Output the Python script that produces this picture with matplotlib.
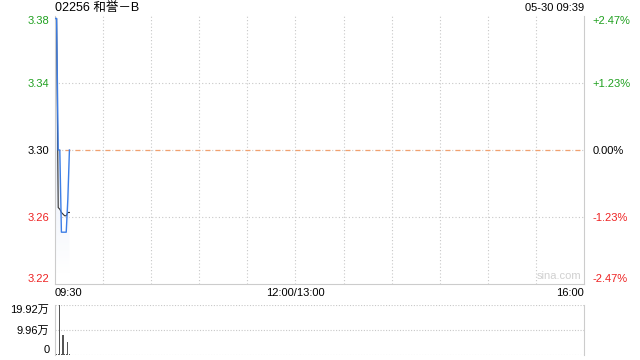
import matplotlib.pyplot as plt
import matplotlib.colors as mcolors
import numpy as np

plt.rcParams['font.family'] = ['Liberation Sans', 'Noto Sans CJK SC', 'DejaVu Sans']

GREEN = '#1fa01f'
RED = '#ee2222'
GRID = '#c8c8c8'

# minute index since 09:30
minutes = [0, 1, 2, 3, 4, 5, 6, 7, 8, 9]
price = [3.38, 3.38, 3.30, 3.30, 3.25, 3.25, 3.25, 3.25, 3.27, 3.30]
avg_price = [3.38, 3.38, 3.265, 3.264, 3.262, 3.261, 3.260, 3.260, 3.262, 3.262]
volume = [0.4, 0.3, 0.5, 19.92, 0.3, 7.9, 0.4, 0.3, 5.1, 0.3]  # 万

prev_close = 3.30
pct_ticks = [0.0247, 0.0123, 0.0, -0.0123, -0.0247]
price_labels = ['3.38', '3.34', '3.30', '3.26', '3.22']
pct_labels = ['+2.47%', '+1.23%', '0.00%', '-1.23%', '-2.47%']
label_colors = [GREEN, GREEN, 'black', RED, RED]
vol_ticks = [0, 9.96, 19.92]
vol_labels = ['0', '9.96万', '19.92万']

fig = plt.figure(figsize=(6.4, 3.6), dpi=100)
ax = fig.add_axes([55/640, 1-284/360, 529/640, 268/360])
axv = fig.add_axes([55/640, 1-355/360, 529/640, 50/360])

ymin = prev_close * (1 - 0.0247)
ymax = prev_close * (1 + 0.0247)

# grid
for m in range(30, 330, 30):
    ax.axvline(m, color=GRID, lw=0.8, ls=(0, (1, 2)), zorder=0)
for p in pct_ticks[1:4:2]:
    ax.axhline(prev_close * (1 + p), color=GRID, lw=0.8, ls=(0, (1, 2)), zorder=0)
ax.axhline(prev_close, color=GRID, lw=0.8, ls=(0, (1, 2)), zorder=0)
ax.axhline(prev_close, color='#f2a06e', lw=0.9, ls=(0, (4, 4)), zorder=1)

# gradient fill under price
poly = ax.fill_between(minutes, price, ymin, color='none', lw=0)
grad = np.linspace(1, 0, 100).reshape(-1, 1)
cmap = mcolors.LinearSegmentedColormap.from_list('g', ['#ffffff', '#cfdcf3'])
img = ax.imshow(grad, extent=[0, 9, ymin + 0.006, ymax], aspect='auto',
                cmap=cmap, origin='upper', zorder=1)
img.set_clip_path(poly.get_paths()[0], transform=ax.transData)
ax.set_xlim(0, 330)
ax.set_ylim(ymin, ymax)

ax.plot(minutes, avg_price, color='#333333', lw=0.8, zorder=3)
ax.plot(minutes, price, color='#3d7ee6', lw=1.0, zorder=4)

ax.spines['top'].set_visible(False)
for s in ['left', 'bottom', 'right']:
    ax.spines[s].set_color('#cccccc')

ax.set_yticks([prev_close * (1 + p) for p in pct_ticks])
ax.set_yticklabels(price_labels, fontsize=8)
ax.tick_params(axis='y', length=0, pad=4)
for lab, c in zip(ax.get_yticklabels(), label_colors):
    lab.set_color(c)
ylabs = ax.get_yticklabels()
ylabs[0].set_va('top')
ylabs[-1].set_va('bottom')

ax2 = ax.twinx()
ax2.set_ylim(ymin, ymax)
ax2.set_yticks([prev_close * (1 + p) for p in pct_ticks])
ax2.set_yticklabels(pct_labels, fontsize=8)
ax2.tick_params(axis='y', length=0, pad=6)
for s in ax2.spines.values():
    s.set_visible(False)
for lab, c in zip(ax2.get_yticklabels(), label_colors):
    lab.set_color(c)
r = ax2.get_yticklabels()
r[0].set_va('top')
r[-1].set_va('bottom')

ax.set_xticks([0, 150, 330])
ax.set_xticklabels(['09:30', '12:00/13:00', '16:00'], fontsize=8)
ax.tick_params(axis='x', length=0, pad=3)
xl = ax.get_xticklabels()
xl[0].set_ha('left')
xl[-1].set_ha('right')

ax.text(0.995, 0.012, 'sina.com', transform=ax.transAxes, ha='right', va='bottom',
        fontsize=8, color='#d0d0d0')

fig.text(55/640, 1-8/360, '02256 和誉－B', fontsize=9, ha='left', va='center')
fig.text(584/640, 1-8/360, '05-30 09:39', fontsize=8, ha='right', va='center')

# volume panel
axv.set_xlim(0, 330)
axv.set_ylim(0, 19.92)
axv.bar(minutes, volume, width=0.7, color='#555555', lw=0)
for v in vol_ticks:
    axv.axhline(v, color=GRID, lw=0.8, ls=(0, (1, 1.5)), zorder=0)
for s in ['top', 'bottom']:
    axv.spines[s].set_visible(False)
for s in ['left', 'right']:
    axv.spines[s].set_color('#cccccc')
axv.set_xticks([])
axv.set_yticks(vol_ticks)
axv.set_yticklabels(vol_labels, fontsize=8)
axv.tick_params(axis='y', length=0, pad=4)
vl = axv.get_yticklabels()
vl[0].set_va('bottom')
vl[-1].set_va('top')

fig.savefig('out.png', dpi=100)
